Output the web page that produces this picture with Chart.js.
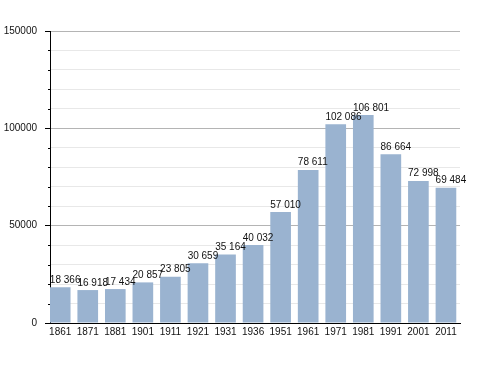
<!DOCTYPE html>
<html>
<head>
<meta charset="utf-8">
<script src="https://cdn.jsdelivr.net/npm/chart.js@4/dist/chart.umd.min.js"></script>
<style>
html,body{margin:0;padding:0;background:#fff;}
#wrap{width:488px;height:373px;position:relative;}
</style>
</head>
<body>
<div id="wrap"><canvas id="c" width="488" height="373"></canvas></div>
<script>
const years = ['1861','1871','1881','1901','1911','1921','1931','1936','1951','1961','1971','1981','1991','2001','2011'];
const population = [18366,16918,17434,20857,23805,30659,35164,40032,57010,78611,102086,106801,86664,72998,69484];
const valueLabels = ['18 366','16 918','17 434','20 857','23 805','30 659','35 164','40 032','57 010','78 611','102 086','106 801','86 664','72 998','69 484'];
const yTickValues = [0,50000,100000,150000];

const FONT = '"Liberation Sans", Arial, sans-serif';

const barLabels = {
  id: 'barLabels',
  afterDatasetsDraw(chart) {
    const ctx = chart.ctx;
    const meta = chart.getDatasetMeta(0);
    ctx.save();
    ctx.font = '10px ' + FONT;
    ctx.fillStyle = '#111';
    ctx.textAlign = 'left';
    ctx.textBaseline = 'alphabetic';
    meta.data.forEach((bar, i) => {
      ctx.fillText(valueLabels[i], bar.x - bar.width / 2, bar.y - 4.5);
    });
    ctx.restore();
  }
};

const minorTicks = {
  id: 'minorTicks',
  afterDraw(chart) {
    const y = chart.scales.y;
    const ctx = chart.ctx;
    ctx.save();
    ctx.strokeStyle = '#000';
    ctx.lineWidth = 1;
    y.ticks.forEach(t => {
      if (t.value % 50000 !== 0) {
        const py = Math.round(y.getPixelForValue(t.value)) + 0.5;
        ctx.beginPath();
        ctx.moveTo(y.right - 2, py);
        ctx.lineTo(y.right, py);
        ctx.stroke();
      }
    });
    ctx.restore();
  }
};

new Chart(document.getElementById('c'), {
  type: 'bar',
  data: {
    datasets: [{
      data: population.map((v, i) => ({x: i, y: v})),
      backgroundColor: '#9ab3d0',
      borderWidth: 0,
      categoryPercentage: 1,
      barPercentage: 0.75
    }]
  },
  options: {
    responsive: false,
    animation: false,
    devicePixelRatio: 1,
    layout: {padding: {top: 31, right: 28, left: 0, bottom: 0}},
    plugins: {legend: {display: false}, tooltip: {enabled: false}},
    scales: {
      x: {
        type: 'linear',
        offset: false,
        min: -0.37,
        max: 14.51,
        afterBuildTicks(scale) {
          scale.ticks = years.map((_, i) => ({value: i}));
        },
        afterFit(scale) { scale.height = 50; },
        grid: {display: false, drawTicks: false, tickLength: 0},
        border: {display: true, color: '#000', width: 1},
        ticks: {
          autoSkip: false,
          maxRotation: 0,
          padding: 3,
          color: '#111',
          font: {family: FONT, size: 10},
          callback: (v) => years[v]
        }
      },
      y: {
        min: 0,
        max: 150000,
        afterFit(scale) { scale.width = 50; },
        border: {display: true, color: '#000', width: 1},
        grid: {
          color: (c) => (c.tick && c.tick.value % 50000 === 0) ? '#b4b4b4' : '#e8e8e8',
          tickColor: (c) => (c.tick && c.tick.value % 50000 === 0) ? '#000' : 'rgba(0,0,0,0)',
          tickLength: 5
        },
        ticks: {
          stepSize: 10000,
          padding: 8,
          color: '#111',
          font: {family: FONT, size: 10},
          callback: (v) => yTickValues.includes(v) ? String(v) : ''
        }
      }
    }
  },
  plugins: [barLabels, minorTicks]
});
</script>
</body>
</html>
